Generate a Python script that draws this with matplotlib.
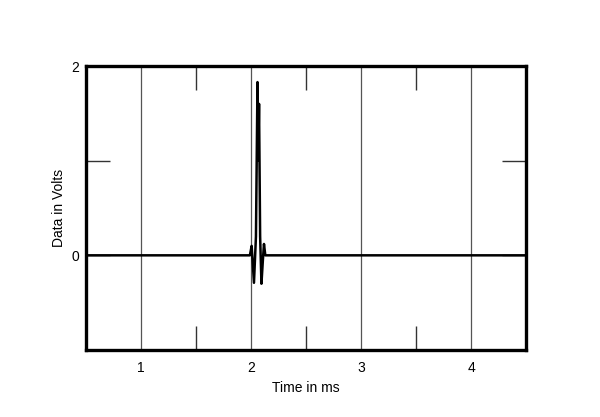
import matplotlib
matplotlib.use("Agg")
import matplotlib.pyplot as plt

plt.rcParams['font.family'] = ['Liberation Sans', 'DejaVu Sans']

# Data
time_ms = [0.5, 1.99, 2.006, 2.027, 2.045, 2.059, 2.066, 2.073, 2.083, 2.095, 2.108, 2.118, 2.13, 4.5]
volts = [0.0, 0.0, 0.10, -0.29, 0.2, 1.83, 1.0, 1.6, 0.2, -0.30, -0.05, 0.12, 0.0, 0.0]

x_major = [1, 2, 3, 4]
x_minor = [1.5, 2.5, 3.5]
y_ticks = [0, 1, 2]
y_labels = ["0", "", "2"]

fig = plt.figure(figsize=(6.0, 4.17), dpi=100)
ax = fig.add_axes([86/600, 1 - 350/417, 440/600, 284/417])

ax.plot(time_ms, volts, color='black', lw=1.8, zorder=3)

ax.set_xlim(0.5, 4.5)
ax.set_ylim(-1, 2)

ax.set_xticks(x_major)
ax.set_xticklabels([str(v) for v in x_major])
ax.set_xticks(x_minor, minor=True)
ax.set_yticks(y_ticks)
ax.set_yticklabels(y_labels)

for xv in x_major:
    ax.axvline(xv, color='#555555', lw=0.9, zorder=1)

ax.tick_params(axis='x', which='major', length=0, pad=8, labelsize=10)
ax.tick_params(axis='x', which='minor', direction='in', length=17, width=1, top=True, bottom=True, color='#333333')
ax.tick_params(axis='y', which='major', direction='in', length=17, width=1, left=True, right=True, labelsize=10, pad=5, color='#333333')

for s in ax.spines.values():
    s.set_linewidth(2.4)
    s.set_color('black')

ax.set_xlabel("Time in ms", fontsize=10, labelpad=4)
ax.set_ylabel("Data in Volts", fontsize=10, labelpad=4)

fig.savefig("out.png", dpi=100)
